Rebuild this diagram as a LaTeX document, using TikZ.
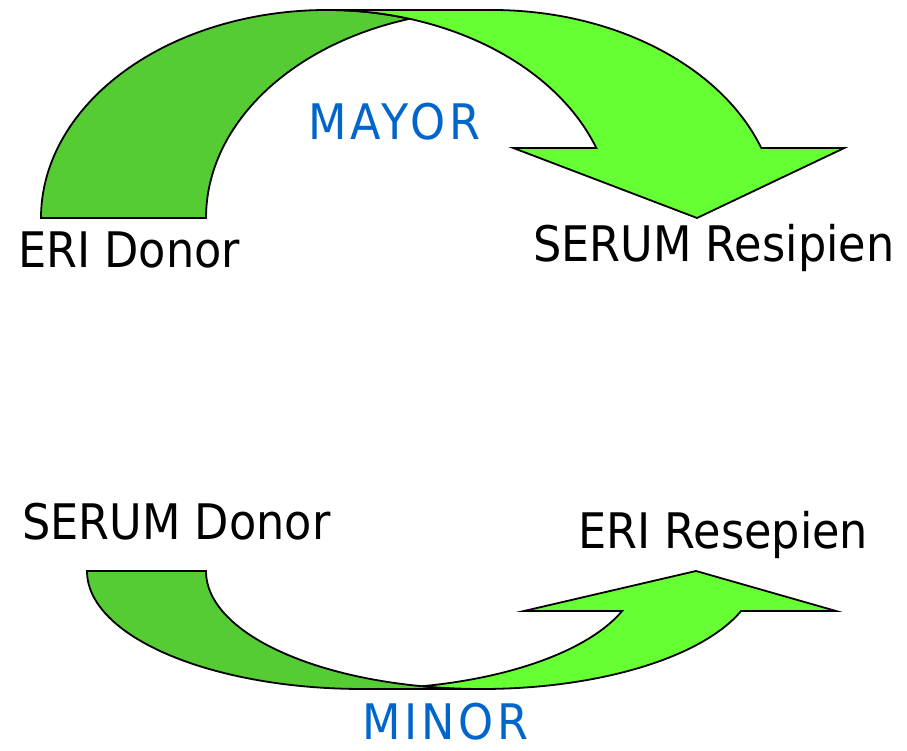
\documentclass[tikz,border=0pt]{standalone}
\usepackage{fontspec}
\newfontfamily\labelfont[FakeStretch=0.91]{DejaVu Sans}
\newfontfamily\kindfont[FakeStretch=0.91, LetterSpace=8]{DejaVu Sans}
\usetikzlibrary{positioning}

\definecolor{bandDark}{HTML}{55CC33}
\definecolor{bandLight}{HTML}{66FF33}
\definecolor{kindBlue}{HTML}{0066CC}

\tikzset{
  band/.style={draw=black, line width=1.8pt, line join=miter},
  backband/.style={band, fill=bandDark},
  frontband/.style={band, fill=bandLight},
  lbl/.style={font=\labelfont\fontsize{49}{58}\selectfont, anchor=base west, inner sep=0pt},
  kind/.style={lbl, font=\kindfont\fontsize{49}{58}\selectfont, text=kindBlue}
}

\begin{document}
\begin{tikzpicture}[x=1pt, y=1pt]
  \useasboundingbox (0,0) rectangle (907,751);

  % upper arrow (mayor): back band, then front band with head
  \draw[backband] (41,533)
    arc[start angle=180, end angle=73.23, x radius=286, y radius=208]
    arc[start angle=106.77, end angle=180, x radius=286, y radius=208] -- cycle;
  \draw[frontband] (697,533) -- (513.3,603) -- (596.3,603)
    arc[start angle=19.66, end angle=90, x radius=286, y radius=208]
    -- (492,741)
    arc[start angle=90, end angle=19.66, x radius=286, y radius=208]
    -- (844.3,603) -- cycle;

  % lower arrow (minor)
  \draw[backband] (87,180)
    arc[start angle=180, end angle=270, x radius=275.7, y radius=118]
    -- (481.7,62)
    arc[start angle=270, end angle=180, x radius=275.7, y radius=118] -- cycle;
  \draw[frontband] (622.1,140) -- (524,140) -- (696,180) -- (836,140) -- (741.1,140)
    arc[start angle=-19.82, end angle=-102.46, x radius=275.7, y radius=118]
    arc[start angle=-77.54, end angle=-19.82, x radius=275.7, y radius=118] -- cycle;

  % labels
  \node[lbl]  (eriDonor)   at (18,483)  {ERI Donor};
  \node[lbl]  (serumResip) at (533,489) {SERUM Resipien};
  \node[kind] (mayor)      at (308,611) {MAYOR};
  \node[lbl]  (serumDonor) at (22,211)  {SERUM Donor};
  \node[lbl]  (eriResep)   at (578,202) {ERI Resepien};
  \node[kind] (minor)      at (362,11)  {MINOR};
\end{tikzpicture}
\end{document}
